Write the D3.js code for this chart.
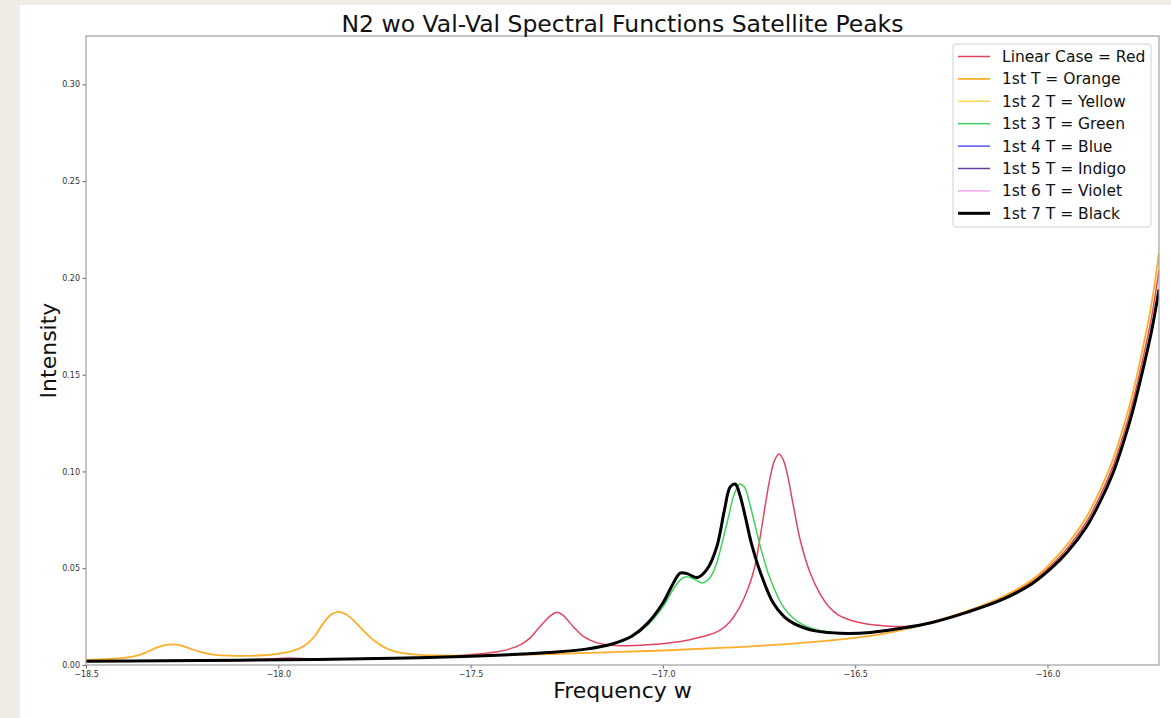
<!DOCTYPE html>
<html>
<head>
<meta charset="utf-8">
<script src="https://cdn.jsdelivr.net/npm/d3@7"></script>
<style>
  body { margin: 0; background: #efece5; }
  svg { display: block; }
  text { font-family: "DejaVu Sans", sans-serif; }
</style>
</head>
<body>
<div id="chart"></div>
<script>
// values: [frequency, intensity]
const linearCase = [
  [-18.5, 0.0020], [-18.2, 0.0023], [-18.05, 0.0028], [-17.97, 0.0036], [-17.9, 0.0030],
  [-17.7, 0.0036], [-17.55, 0.0046], [-17.475, 0.0058], [-17.43, 0.0068], [-17.4, 0.0082],
  [-17.37, 0.0105], [-17.345, 0.0140], [-17.32, 0.0198], [-17.29, 0.0258], [-17.275, 0.0272],
  [-17.26, 0.0258], [-17.233, 0.0198], [-17.205, 0.0145], [-17.175, 0.0117], [-17.14, 0.0103],
  [-17.1, 0.0099], [-17.04, 0.0104], [-16.98, 0.0115], [-16.93, 0.0131], [-16.88, 0.0156],
  [-16.85, 0.0182], [-16.825, 0.0225], [-16.8, 0.0300], [-16.78, 0.0387], [-16.762, 0.0500],
  [-16.748, 0.0650], [-16.735, 0.0810], [-16.722, 0.0960], [-16.71, 0.1055], [-16.698, 0.1090],
  [-16.687, 0.1060], [-16.677, 0.0990], [-16.66, 0.0816], [-16.643, 0.0646], [-16.617, 0.0475],
  [-16.595, 0.0380], [-16.57, 0.0305], [-16.545, 0.0260], [-16.51, 0.0230], [-16.47, 0.0212],
  [-16.42, 0.0202], [-16.37, 0.0199], [-16.33, 0.0206], [-16.3, 0.0218], [-16.21, 0.0276],
  [-16.12, 0.0345], [-16.04, 0.0432], [-15.99, 0.0515], [-15.95, 0.0600], [-15.9, 0.0735],
  [-15.864, 0.0870], [-15.83, 0.1025], [-15.804, 0.1180], [-15.78, 0.1345], [-15.755, 0.1555],
  [-15.73, 0.1790], [-15.71, 0.2040]
];

const first1T = [
  [-18.5, 0.0026], [-18.44, 0.0031], [-18.4, 0.0037], [-18.37, 0.0047], [-18.345, 0.0064],
  [-18.32, 0.0087], [-18.295, 0.0103], [-18.275, 0.0107], [-18.255, 0.0102], [-18.23, 0.0085],
  [-18.2, 0.0066], [-18.17, 0.0054], [-18.13, 0.0048], [-18.05, 0.0049], [-18.0, 0.0058],
  [-17.96, 0.0074], [-17.93, 0.0102], [-17.905, 0.0150], [-17.885, 0.0210], [-17.862, 0.0262],
  [-17.843, 0.0275], [-17.822, 0.0260], [-17.8, 0.0222], [-17.775, 0.0170], [-17.75, 0.0125],
  [-17.725, 0.0092], [-17.695, 0.0069], [-17.65, 0.0055], [-17.58, 0.0049], [-17.45, 0.0050],
  [-17.3, 0.0056], [-17.15, 0.0065], [-17.0, 0.0075], [-16.85, 0.0088], [-16.7, 0.0105],
  [-16.59, 0.0122], [-16.46, 0.0150], [-16.38, 0.0180], [-16.3, 0.0222], [-16.21, 0.0278],
  [-16.12, 0.0350], [-16.04, 0.0440], [-15.99, 0.0530], [-15.95, 0.0620], [-15.9, 0.0760],
  [-15.864, 0.0900], [-15.83, 0.1060], [-15.804, 0.1220], [-15.78, 0.1390], [-15.755, 0.1610],
  [-15.73, 0.1860], [-15.71, 0.2130]
];

const first3T = [
  [-18.5, 0.0020], [-18.3, 0.0022], [-18.1, 0.0025], [-17.9, 0.0029], [-17.7, 0.0035],
  [-17.5, 0.0045], [-17.4, 0.0053], [-17.3, 0.0064], [-17.2, 0.0082], [-17.13, 0.0108],
  [-17.08, 0.0145], [-17.04, 0.0205], [-17.0, 0.0300], [-16.975, 0.0385], [-16.955, 0.0440],
  [-16.94, 0.0456], [-16.92, 0.0445], [-16.898, 0.0424], [-16.878, 0.0450], [-16.86, 0.0527],
  [-16.845, 0.0640], [-16.83, 0.0760], [-16.815, 0.0880], [-16.8, 0.0935], [-16.788, 0.0920],
  [-16.775, 0.0840], [-16.76, 0.0720], [-16.745, 0.0600], [-16.72, 0.0440], [-16.687, 0.0300],
  [-16.66, 0.0240], [-16.635, 0.0207], [-16.6, 0.0182], [-16.56, 0.0169], [-16.5, 0.0163],
  [-16.46, 0.0166], [-16.38, 0.0188], [-16.3, 0.0220], [-16.21, 0.0272], [-16.12, 0.0336],
  [-16.04, 0.0420], [-15.99, 0.0500], [-15.95, 0.0580], [-15.9, 0.0710], [-15.864, 0.0840],
  [-15.83, 0.0990], [-15.804, 0.1140], [-15.78, 0.1300], [-15.755, 0.1500], [-15.73, 0.1720],
  [-15.71, 0.1940]
];

// 1st 2 T .. 1st 7 T sit on top of each other in the picture
const converged = [
  [-18.5, 0.0020], [-18.3, 0.0022], [-18.1, 0.0025], [-17.9, 0.0029], [-17.7, 0.0035],
  [-17.5, 0.0045], [-17.4, 0.0053], [-17.3, 0.0064], [-17.2, 0.0082], [-17.13, 0.0110],
  [-17.08, 0.0150], [-17.04, 0.0215], [-17.0, 0.0320], [-16.975, 0.0415], [-16.955, 0.0475],
  [-16.937, 0.0472], [-16.91, 0.0452], [-16.885, 0.0495], [-16.86, 0.0610], [-16.84, 0.0800],
  [-16.825, 0.0920], [-16.812, 0.0935], [-16.8, 0.0880], [-16.785, 0.0760], [-16.77, 0.0630],
  [-16.745, 0.0470], [-16.713, 0.0320], [-16.685, 0.0250], [-16.66, 0.0215], [-16.63, 0.0190],
  [-16.6, 0.0175], [-16.54, 0.0164], [-16.46, 0.0168], [-16.38, 0.0190], [-16.3, 0.0220],
  [-16.21, 0.0272], [-16.12, 0.0336], [-16.04, 0.0420], [-15.99, 0.0500], [-15.95, 0.0580],
  [-15.9, 0.0710], [-15.864, 0.0840], [-15.83, 0.0990], [-15.804, 0.1140], [-15.78, 0.1300],
  [-15.755, 0.1500], [-15.73, 0.1720], [-15.71, 0.1940]
];
const first2T = converged;
const first4T = converged;
const first5T = converged;
const first6T = converged;
const first7T = converged;

const seriesNames = ["Linear Case = Red", "1st T = Orange", "1st 2 T = Yellow", "1st 3 T = Green",
  "1st 4 T = Blue", "1st 5 T = Indigo", "1st 6 T = Violet", "1st 7 T = Black"];
const seriesData = [linearCase, first1T, first2T, first3T, first4T, first5T, first6T, first7T];
const seriesColors = ["#e3445f", "#ffae2a", "#ffd54d", "#3fd15c", "#5555ff", "#6a3a9e", "#f2a6ef", "#000000"];
const seriesWidths = [1.5, 1.8, 1.5, 1.5, 1.5, 1.5, 1.5, 3];

const xTicks = [-18.5, -18.0, -17.5, -17.0, -16.5, -16.0];
const yTicks = [0, 0.05, 0.10, 0.15, 0.20, 0.25, 0.30];

const W = 1171, H = 718;
const plot = { left: 86, top: 36, right: 1159, bottom: 665 };

const svg = d3.select("#chart").append("svg")
  .attr("width", W).attr("height", H);

// white sheet on the beige page
svg.append("rect")
  .attr("x", 20).attr("y", 5).attr("width", W - 20).attr("height", H - 5)
  .attr("fill", "#ffffff");

const x = d3.scaleLinear().domain([-18.5, -15.71]).range([plot.left, plot.right]);
const y = d3.scaleLinear().domain([0, 0.325]).range([plot.bottom, plot.top]);

svg.append("defs").append("clipPath").attr("id", "clip")
  .append("rect")
  .attr("x", plot.left).attr("y", plot.top)
  .attr("width", plot.right - plot.left).attr("height", plot.bottom - plot.top);

const line = d3.line()
  .x(d => x(d[0]))
  .y(d => y(d[1]))
  .curve(d3.curveCatmullRom.alpha(0.5));

const lines = svg.append("g").attr("clip-path", "url(#clip)");
for (let i = 0; i < seriesData.length; i++) {
  lines.append("path")
    .attr("fill", "none")
    .attr("stroke", seriesColors[i])
    .attr("stroke-width", seriesWidths[i])
    .attr("stroke-linejoin", "round")
    .attr("d", line(seriesData[i]));
}

// axes
const xAxis = svg.append("g")
  .attr("transform", "translate(0," + plot.bottom + ")")
  .call(d3.axisBottom(x).tickValues(xTicks).tickFormat(d3.format(".1f")).tickSize(3.5).tickPadding(2.5));
const yAxis = svg.append("g")
  .attr("transform", "translate(" + plot.left + ",0)")
  .call(d3.axisLeft(y).tickValues(yTicks).tickFormat(d3.format(".2f")).tickSize(3.5).tickPadding(2.5));

[xAxis, yAxis].forEach(a => {
  a.select(".domain").remove();
  a.selectAll(".tick line").attr("stroke", "#666");
  a.selectAll(".tick text")
    .attr("fill", "#333")
    .style("font-size", "8px")
    .style("font-family", "DejaVu Sans, sans-serif");
});

// frame
svg.append("rect")
  .attr("x", plot.left).attr("y", plot.top)
  .attr("width", plot.right - plot.left).attr("height", plot.bottom - plot.top)
  .attr("fill", "none")
  .attr("stroke", "#a0a0a0")
  .attr("stroke-width", 1.2);

// titles
svg.append("text")
  .attr("x", (plot.left + plot.right) / 2).attr("y", 32)
  .attr("text-anchor", "middle")
  .style("font-size", "23.5px")
  .attr("fill", "#111")
  .text("N2 wo Val-Val Spectral Functions Satellite Peaks");

svg.append("text")
  .attr("x", (plot.left + plot.right) / 2).attr("y", 698)
  .attr("text-anchor", "middle")
  .style("font-size", "22px")
  .attr("fill", "#111")
  .text("Frequency w");

svg.append("text")
  .attr("transform", "translate(56," + (plot.top + plot.bottom) / 2 + ") rotate(-90)")
  .attr("text-anchor", "middle")
  .style("font-size", "22px")
  .attr("fill", "#111")
  .text("Intensity");

// legend
const legend = svg.append("g").attr("transform", "translate(953,44)");
legend.append("rect")
  .attr("width", 198).attr("height", 183)
  .attr("rx", 3)
  .attr("fill", "#ffffff").attr("fill-opacity", 0.85)
  .attr("stroke", "#d0d0d0");

const items = legend.selectAll(".item")
  .data(seriesNames)
  .join("g")
  .attr("class", "item")
  .attr("transform", (d, i) => "translate(0," + (12.5 + i * 22.4) + ")");

items.append("line")
  .attr("x1", 5).attr("x2", 37)
  .attr("stroke", (d, i) => seriesColors[i])
  .attr("stroke-width", (d, i) => seriesWidths[i]);

items.append("text")
  .attr("x", 49).attr("dy", "0.35em")
  .style("font-size", "15.5px")
  .attr("fill", "#111")
  .text(d => d);
</script>
</body>
</html>
